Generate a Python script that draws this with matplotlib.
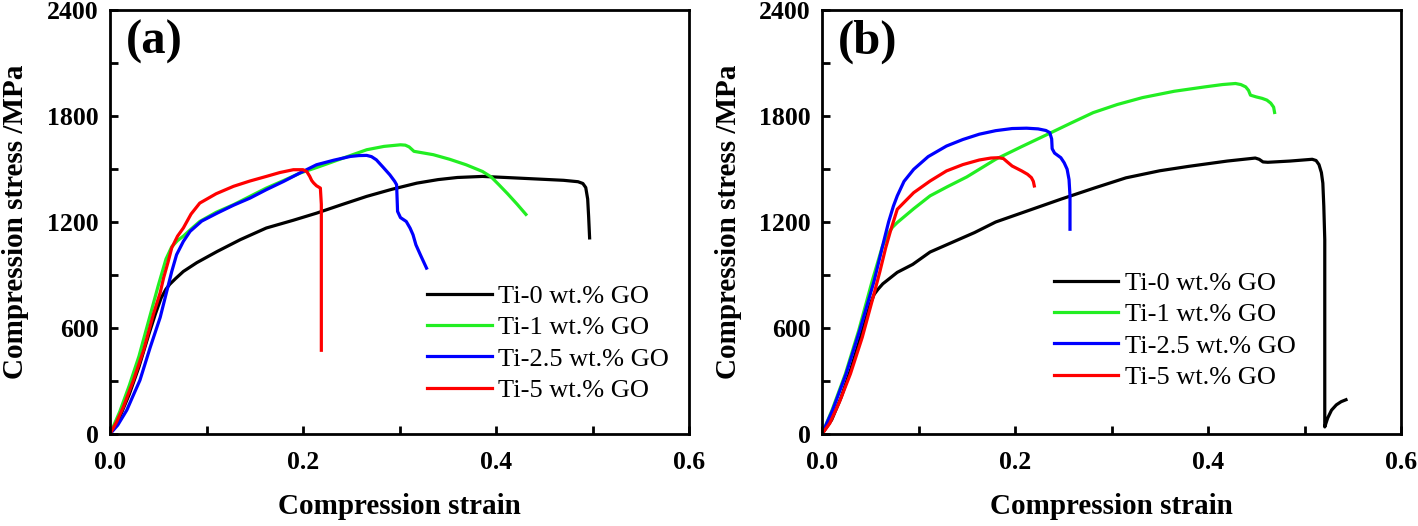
import matplotlib
matplotlib.use("Agg")
import matplotlib.pyplot as plt
from matplotlib.ticker import MultipleLocator

# ---------------- data: panel (a) ----------------
a_ti0_x = [0, 0.010, 0.020, 0.030, 0.040, 0.047, 0.053, 0.058, 0.062, 0.068, 0.076, 0.090, 0.111, 0.135,
           0.162, 0.190, 0.214, 0.240, 0.266, 0.292, 0.318, 0.340, 0.360, 0.386, 0.410, 0.440, 0.470, 0.485,
           0.490, 0.493, 0.495, 0.496, 0.497]
a_ti0_y = [0, 95, 225, 380, 560, 679, 770, 820, 848, 880, 920, 970, 1033, 1100,
           1166, 1210, 1250, 1298, 1345, 1385, 1420, 1440, 1452, 1458, 1452, 1444, 1436, 1428,
           1418, 1395, 1330, 1230, 1110]

a_ti1_x = [0, 0.010, 0.020, 0.030, 0.040, 0.050, 0.058, 0.064, 0.070, 0.076, 0.084, 0.093, 0.110, 0.128,
           0.145, 0.162, 0.180, 0.197, 0.215, 0.232, 0.250, 0.266, 0.284, 0.301, 0.306, 0.310, 0.315,
           0.335, 0.352, 0.369, 0.386, 0.395, 0.403, 0.412, 0.422, 0.431]
a_ti1_y = [0, 125, 275, 440, 640, 840, 990, 1060, 1095, 1120, 1160, 1203, 1255, 1298,
           1345, 1392, 1435, 1477, 1510, 1543, 1578, 1609, 1628, 1637, 1635, 1625, 1600,
           1581, 1555, 1524, 1486, 1455, 1411, 1360, 1300, 1243]

a_ti25_x = [0, 0.008, 0.0174, 0.025, 0.031, 0.0417, 0.052, 0.058, 0.064, 0.069, 0.076, 0.083, 0.095,
            0.111, 0.128, 0.145, 0.162, 0.180, 0.197, 0.214, 0.232, 0.249, 0.258, 0.266, 0.271, 0.276,
            0.283, 0.290, 0.295, 0.297, 0.298, 0.301, 0.307, 0.311, 0.314, 0.317, 0.322, 0.328]
a_ti25_y = [0, 50, 135, 230, 304, 491, 660, 790, 920, 1015, 1090, 1147, 1205,
            1250, 1295, 1335, 1383, 1430, 1478, 1524, 1550, 1571, 1576, 1577, 1570, 1552,
            1510, 1467, 1430, 1411, 1260, 1225, 1203, 1165, 1128, 1071, 1010, 939]

a_ti5_x = [0, 0.007, 0.0139, 0.0243, 0.0347, 0.045, 0.052, 0.0556, 0.060, 0.064, 0.070, 0.076, 0.084,
           0.093, 0.110, 0.128, 0.145, 0.162, 0.176, 0.190, 0.200, 0.204, 0.207, 0.209, 0.211, 0.214,
           0.218, 0.219, 0.219]
a_ti5_y = [0, 70, 154, 304, 472, 679, 800, 885, 970, 1054, 1120, 1166, 1245,
           1307, 1360, 1402, 1432, 1458, 1480, 1496, 1496, 1485, 1458, 1435, 1421, 1405,
           1392, 1300, 474]

# ---------------- data: panel (b) ----------------
b_ti0_x = [0, 0.010, 0.020, 0.030, 0.040, 0.050, 0.054, 0.058, 0.063, 0.069, 0.078, 0.094, 0.112, 0.135,
           0.158, 0.180, 0.214, 0.248, 0.282, 0.315, 0.350, 0.380, 0.420, 0.449, 0.453, 0.457, 0.462,
           0.485, 0.508, 0.512, 0.515, 0.5175, 0.519, 0.520, 0.521, 0.521, 0.524, 0.528, 0.533, 0.538, 0.543]
b_ti0_y = [0, 80, 210, 370, 550, 735, 790, 819, 850, 876, 915, 960, 1030, 1085,
           1140, 1200, 1265, 1330, 1392, 1450, 1490, 1515, 1545, 1562, 1555, 1540, 1538,
           1545, 1555, 1548, 1525, 1480, 1420, 1290, 1100, 40, 90, 135, 165, 183, 194]

b_ti1_x = [0, 0.0104, 0.0243, 0.038, 0.052, 0.0625, 0.068, 0.073, 0.078, 0.095, 0.112, 0.130, 0.150,
           0.180, 0.207, 0.234, 0.258, 0.281, 0.306, 0.332, 0.365, 0.397, 0.415, 0.4285, 0.434, 0.439,
           0.442, 0.444, 0.450, 0.456, 0.461, 0.465, 0.468, 0.469]
b_ti1_y = [0, 135, 341, 585, 866, 1060, 1130, 1170, 1197, 1275, 1348, 1400, 1455,
           1555, 1627, 1697, 1760, 1819, 1865, 1904, 1940, 1965, 1978, 1984, 1978, 1965,
           1945, 1918, 1908, 1900, 1890, 1873, 1850, 1820]

b_ti25_x = [0, 0.011, 0.025, 0.039, 0.054, 0.064, 0.069, 0.074, 0.078, 0.085, 0.095, 0.110, 0.129,
            0.146, 0.163, 0.180, 0.197, 0.212, 0.224, 0.232, 0.236, 0.238, 0.2385, 0.241, 0.2475,
            0.251, 0.254, 0.256, 0.257, 0.257]
b_ti25_y = [0, 135, 341, 585, 866, 1091, 1200, 1290, 1348, 1430, 1498, 1570, 1630,
            1667, 1697, 1717, 1729, 1731, 1727, 1718, 1706, 1670, 1615, 1590, 1564,
            1535, 1499, 1440, 1348, 1159]

b_ti5_x = [0, 0.008, 0.018, 0.0295, 0.0417, 0.0538, 0.060, 0.066, 0.071, 0.078, 0.095, 0.112, 0.129,
           0.146, 0.163, 0.175, 0.183, 0.188, 0.192, 0.197, 0.207, 0.213, 0.217, 0.219, 0.220]
b_ti5_y = [0, 60, 180, 341, 547, 791, 920, 1054, 1150, 1272, 1366, 1432, 1489,
           1525, 1551, 1562, 1564, 1559, 1540, 1517, 1489, 1470, 1451, 1430, 1404]

labels = ["Ti-0 wt.% GO", "Ti-1 wt.% GO", "Ti-2.5 wt.% GO", "Ti-5 wt.% GO"]
colors = ["#000000", "#22ee22", "#0000ff", "#ff0000"]
panel_names = ["(a)", "(b)"]
x_label = "Compression strain"
y_label = "Compression stress /MPa"

panels = [
    [(a_ti0_x, a_ti0_y), (a_ti1_x, a_ti1_y), (a_ti25_x, a_ti25_y), (a_ti5_x, a_ti5_y)],
    [(b_ti0_x, b_ti0_y), (b_ti1_x, b_ti1_y), (b_ti25_x, b_ti25_y), (b_ti5_x, b_ti5_y)],
]

serif = ["Liberation Serif", "DejaVu Serif"]
plt.rcParams["font.family"] = serif

fig = plt.figure(figsize=(14.18, 5.26), dpi=100)
W, H = 1418, 526
ax_boxes = [(110 / W, 1 - 434 / H, 579 / W, 424 / H),
            (822 / W, 1 - 434 / H, 579 / W, 424 / H)]
legend_anchor = [(0.5475, 0.214), (0.40, 0.245)]

for i, (box, series) in enumerate(zip(ax_boxes, panels)):
    ax = fig.add_axes(box)
    for (xs, ys), c, lab in zip(series, colors, labels):
        ax.plot(xs, ys, color=c, lw=2.3, label=lab, solid_joinstyle="round")
    ax.set_xlim(0, 0.6)
    ax.set_ylim(0, 2400)
    ax.xaxis.set_major_locator(MultipleLocator(0.2))
    ax.xaxis.set_minor_locator(MultipleLocator(0.1))
    ax.yaxis.set_major_locator(MultipleLocator(600))
    ax.yaxis.set_minor_locator(MultipleLocator(300))
    ax.tick_params(which="both", direction="in", length=6, width=2, top=False, right=False)
    ax.tick_params(which="major", labelsize=18.5)
    ax.tick_params(axis="x", which="major", pad=12)
    ax.tick_params(axis="y", which="major", pad=8)
    for lab in ax.get_xticklabels() + ax.get_yticklabels():
        lab.set_fontweight("bold")
    for sp in ax.spines.values():
        sp.set_linewidth(2)
    ax.set_xlabel(x_label, fontsize=21, fontweight="bold", va="center")
    ax.xaxis.set_label_coords(0.5, (434 - 507) / 424)
    ax.set_ylabel(y_label, fontsize=21, fontweight="bold", va="center")
    ax.yaxis.set_label_coords(-94 / 579, 0.5)
    ax.text(0.028, 0.978, panel_names[i], transform=ax.transAxes, fontsize=35,
            fontweight="bold", va="top", ha="left")
    ax.legend(loc="center left", bbox_to_anchor=legend_anchor[i], frameon=False,
              fontsize=19, handlelength=2.45, handletextpad=0.25, labelspacing=0.3,
              borderaxespad=0, borderpad=0)

fig.savefig("out.png", dpi=100)
